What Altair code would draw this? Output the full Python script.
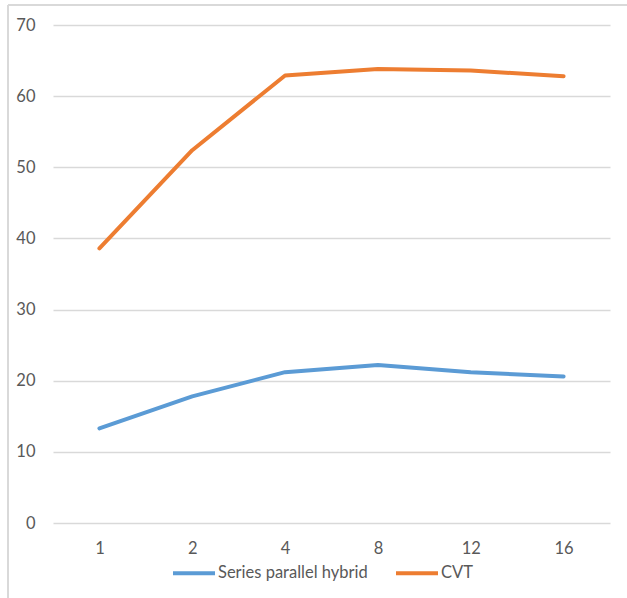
import altair as alt
import pandas as pd

# Number of units on the x axis, and the value of each series at each unit
units = ["1", "2", "4", "8", "12", "16"]
series_parallel_hybrid = [13.3, 17.8, 21.2, 22.2, 21.2, 20.6]
cvt = [38.6, 52.4, 62.9, 63.8, 63.6, 62.8]

series_names = ["Series parallel hybrid", "CVT"]
series_colors = ["#5B9BD5", "#ED7D31"]

rows = []
for name, values in zip(series_names, [series_parallel_hybrid, cvt]):
    for u, v in zip(units, values):
        rows.append({"unit": u, "value": v, "series": name})
df = pd.DataFrame(rows)

FONT = "Lato"
FONT_SIZE = 16.5
GRID = "#D9D9D9"
TEXT = "#595959"

lines = (
    alt.Chart(df)
    .mark_line(strokeWidth=4, strokeCap="round", strokeJoin="round")
    .encode(
        x=alt.X(
            "unit:N",
            sort=units,
            scale=alt.Scale(type="point", padding=0.5),
            axis=alt.Axis(
                title=None,
                labelAngle=0,
                ticks=False,
                domain=False,
                grid=False,
                labelPadding=17,
                labelFontSize=FONT_SIZE,
                labelColor=TEXT,
                labelFont=FONT,
            ),
        ),
        y=alt.Y(
            "value:Q",
            scale=alt.Scale(domain=[0, 70], nice=False),
            axis=alt.Axis(
                title=None,
                values=[0, 10, 20, 30, 40, 50, 60, 70],
                ticks=False,
                domain=False,
                gridColor=GRID,
                gridWidth=1.3,
                labelPadding=18,
                labelFontSize=FONT_SIZE,
                labelColor=TEXT,
                labelFont=FONT,
            ),
        ),
        color=alt.Color(
            "series:N",
            sort=series_names,
            scale=alt.Scale(domain=series_names, range=series_colors),
            legend=alt.Legend(
                title=None,
                orient="none",
                direction="horizontal",
                legendX=118,
                legendY=525,
                symbolType="stroke",
                symbolSize=1764,
                symbolStrokeWidth=4,
                labelFontSize=FONT_SIZE,
                labelColor=TEXT,
                labelFont=FONT,
                labelOffset=1,
                columnPadding=20,
            ),
        ),
    )
)

# Chart frame: left and top edges of the outer border
frame_left = alt.Chart(df).mark_rule(color=GRID, strokeWidth=1.5).encode(
    x=alt.value(-45), y=alt.value(-20), y2=alt.value(580)
)
frame_top = alt.Chart(df).mark_rule(color=GRID, strokeWidth=1.5).encode(
    x=alt.value(-45), x2=alt.value(580), y=alt.value(-20)
)

chart = (
    alt.layer(frame_left, frame_top, lines)
    .properties(
        width=557,
        height=498,
        autosize=alt.AutoSizeParams(type="none"),
        padding={"left": 53, "top": 25, "right": 17, "bottom": 75},
        background="white",
    )
    .configure_view(stroke=None)
)

chart.save("out.html", embed_options={"renderer": "svg", "actions": False})
